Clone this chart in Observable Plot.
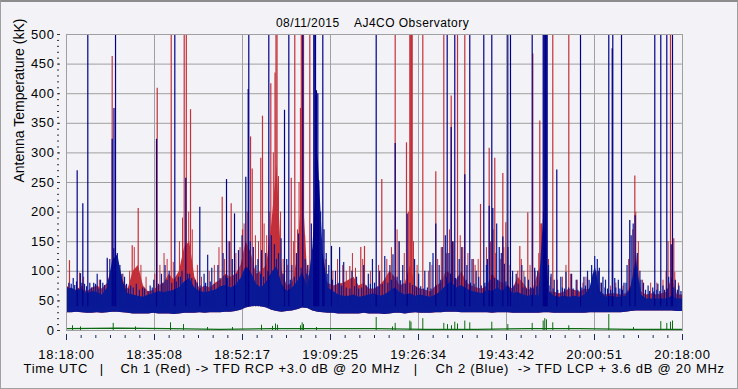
<!DOCTYPE html>
<html><head><meta charset="utf-8">
<script src="https://cdn.jsdelivr.net/npm/d3@7"></script>
<script src="https://cdn.jsdelivr.net/npm/@observablehq/plot@0.6"></script>
<style>
html,body{margin:0;padding:0;background:#f3f3f7;}
#wrap{position:relative;width:738px;height:389px;overflow:hidden;}
#wrap::after{content:"";position:absolute;left:0;top:0;right:0;bottom:0;border:1px solid #a0a0a0;border-top:2px solid #8c8c8c;pointer-events:none;}
svg text{white-space:pre;}
g[aria-label="x-axis tick label"] text{letter-spacing:0.75px;}
g[aria-label="y-axis tick label"] text{letter-spacing:0.6px;}
</style></head><body><div id="wrap"></div>
<script>
// ---- text ----
const titleText = "08/11/2015    AJ4CO Observatory";
const yLabelText = "Antenna Temperature (kK)";
const captionParts = ["Time UTC", "|", "Ch 1 (Red) -> TFD RCP +3.0 dB @ 20 MHz", "|", "Ch 2 (Blue)  -> TFD LCP + 3.6 dB @ 20 MHz"];
const tickLabels = ["18:18:00","18:35:08","18:52:17","19:09:25","19:26:34","19:43:42","20:00:51","20:18:00"];
const yTickValues = [0,50,100,150,200,250,300,350,400,450,500];

// ---- dense noise band, sampled each minute from 18:18 (0..120 min) ----
const bandFloor = [30,30,31,30,29, 29,30,29,30,31, 31,30,29,28,28, 28,28,29,28,28,
  28,27,28,29,29, 29,30,29,30,30, 30,31,31,32,34, 38,40,41,40,38, 34,32,31,32,33,
  35,38,37,33,31, 30,29,29,28,28, 28,28,28,29,28, 28,28,27,28,29, 29,28,29,30,29,
  29,29,30,30,31, 31,31,30,30,30, 30,30,30,29,30, 30,30,29,29,29, 29,29,29,30,30,
  29,29,29,29,29, 29,29,30,30,30, 30,30,30,30,31, 32,33,33,33,33, 33,33,33,33,32, 32];
const blueTop = [68,72,66,70,62, 66,64,60,72,118, 128,82,62,60,58, 56,60,62,66,64,
  66,68,72,82,88, 72,66,64,66,68, 74,76,72,76,88, 108,98,78,72,82, 98,108,78,66,72,
  82,98,72,140,300, 130,72,66,60,58, 58,60,56,58,60, 62,58,60,66,72, 64,60,62,58,60,
  58,56,60,66,76, 82,72,76,70,66, 64,62,68,66,72, 66,76,62,64,60, 58,60,58,200,66,
  58,56,58,56,58, 56,60,72,108,66, 56,58,56,56,58, 72,118,60,53,53, 53,53,53,58,53, 53];
const redTop = [75,70,68,75,65, 72,75,70,80,110, 120,85,70,100,110, 75,65,68,75,80,
  95,85,100,140,150, 90,70,75,72,80, 85,95,90,95,110, 150,130,95,100,110, 180,280,100,75,80,
  120,250,90,100,120, 90,80,75,78,80, 85,90,75,80,70, 70,75,85,100,90, 75,80,110,75,70,
  68,65,75,80,100, 95,85,100,80,75, 72,70,75,95,85, 80,75,70,90,80, 68,72,100,120,65,
  65,62,65,70,68, 65,70,68,70,65, 60,62,62,60,62, 75,130,65,60,62, 60,62,65,90,60, 60];

// ---- spikes [minutes after 18:18, kK] ----
const blueSpikes = [[2.08,270],[3.18,214],[4.15,500],[8.90,323],[9.25,375],[9.55,500],[17.53,323],
  [21.10,500],[23.24,257],[25.97,208],[31.17,255],[32.73,197],[34.93,259],[35.40,407],[35.51,500],
  [39.41,500],[42.47,372],[43.31,500],[46.03,500],[48.17,500],[48.37,500],[48.51,500],[48.70,405],
  [48.96,400],[49.15,253],[49.93,500],[50.16,170],[51.62,142],[60.33,500],[64.03,316],[66.36,197],
  [71.94,180],[74.16,500],[74.94,343],[75.64,500],[77.59,263],[78.56,500],[81.29,500],[82.34,210],
  [82.85,500],[83.05,206],[85.00,158],[85.97,500],[86.49,500],[90.72,500],[92.86,500],[93.02,500],
  [93.17,500],[93.31,500],[93.47,500],[93.64,500],[95.51,271],[100.13,500],[105.64,500],[106.31,476],
  [106.42,500],[108.12,500],[109.73,186],[110.77,194],[114.60,500],[115.77,500],[116.94,500],
  [117.80,145],[118.05,500]];
const blueSmall = [[0.45,80],[0.92,78],[1.31,88],[1.95,82],[2.73,96],[3.51,78],[4.54,80],[5.65,78],
  [5.98,95],[6.62,85],[7.07,80],[7.93,122],[8.44,120],[9.21,138],[9.9,130],[10.4,110],[11.3,90],
  [12.5,75],[13.6,78],[14.8,72],[16.3,75],[17.0,85],[18.5,95],[19.2,110],[20.0,100],[21.8,90],
  [22.5,100],[24.0,95],[25.1,85],[26.8,95],[27.5,127],[28.3,105],[29.5,110],[30.5,130],[31.8,150],
  [32.3,120],[33.5,135],[34.2,160],[35.8,150],[36.4,140],[37.3,120],[38.0,135],[38.8,130],[39.9,160],
  [40.5,145],[41.3,130],[41.8,155],[42.9,120],[43.9,110],[44.8,130],[45.2,163],[46.5,120],[47.0,110],
  [47.7,180],[49.5,200],[50.6,130],[51.1,110],[52.4,100],[53.2,140],[54.0,115],[55.6,100],[56.5,90],
  [57.9,110],[58.8,95],[59.6,120],[61.0,100],[62.0,125],[63.0,110],[63.6,128],[64.8,150],[65.5,110],
  [67.8,120],[68.6,95],[69.8,100],[70.8,115],[71.4,130],[72.6,110],[73.2,140],[73.8,160],[74.5,130],
  [75.2,150],[76.5,120],[77.0,140],[78.0,110],[79.0,120],[79.8,100],[80.3,90],[81.8,110],[82.0,120],
  [83.8,180],[84.3,140],[84.7,130],[85.3,112],[86.0,140],[86.9,100],[87.6,95],[88.7,110],[89.3,90],
  [90.0,85],[91.2,105],[91.8,100],[93.9,110],[94.4,95],[95.0,85],[96.3,90],[97.3,98],[98.4,95],
  [99.3,85],[100.8,90],[101.5,100],[102.3,110],[102.9,125],[103.4,120],[103.8,105],[104.5,90],
  [105.0,85],[106.8,88],[107.5,85],[108.6,80],[109.2,110],[110.0,160],[110.4,180],[111.2,130],
  [111.7,100],[112.4,80],[113.3,75],[114.2,72],[115.2,78],[116.2,75],[117.3,90],[118.6,85],[119.3,75]];
const blueGrass = [[0.2,72],[1.6,76],[2.4,70],[3.0,80],[3.9,74],[4.9,72],[5.3,80],[6.3,70],[7.4,76],
  [8.1,85],[10.8,95],[11.7,78],[12.1,70],[13.0,72],[14.2,68],[15.2,70],[15.9,66],[16.7,72],[17.9,78],
  [18.8,80],[19.6,85],[20.5,80],[21.4,82],[22.2,90],[23.6,95],[24.4,88],[25.5,80],[26.2,75],[27.1,80],
  [28.0,82],[28.8,78],[29.9,88],[30.9,92],[31.4,88],[33.1,95],[34.6,100],[36.9,110],[37.8,95],[38.4,90],
  [39.2,100],[40.9,120],[42.2,95],[43.6,85],[44.4,90],[45.7,105],[46.8,95],[47.4,90],[50.9,95],[51.8,85],
  [52.9,80],[53.6,75],[54.5,72],[55.2,70],[56.1,74],[56.9,70],[57.5,72],[58.4,75],[59.2,78],[60.0,80],
  [60.7,74],[61.5,78],[62.6,80],[63.3,85],[64.4,90],[65.1,84],[66.0,78],[66.9,80],[67.4,76],[68.2,72],
  [69.0,74],[69.5,70],[70.3,72],[71.0,70],[72.0,75],[72.9,85],[74.0,90],[74.8,95],[75.8,88],[76.2,90],
  [77.9,85],[78.7,80],[79.4,78],[80.8,75],[81.5,80],[82.5,85],[83.4,88],[84.0,85],[85.6,82],[86.5,90],
  [87.2,75],[88.0,78],[88.9,72],[89.6,70],[90.4,72],[91.0,70],[91.6,74],[92.3,80],[94.0,75],[94.8,70],
  [95.7,68],[96.6,72],[97.0,70],[97.8,72],[98.7,70],[99.6,68],[100.4,72],[101.1,75],[101.8,85],[102.6,95],
  [103.6,100],[104.2,80],[104.9,72],[105.4,70],[106.0,68],[107.0,72],[107.8,70],[108.3,68],[109.0,80],
  [111.9,85],[112.8,68],[113.6,66],[114.4,65],[115.0,68],[115.6,66],[116.5,68],[117.0,70],[118.3,72],
  [119.0,68],[119.7,66]];
const redSpikes = [[0.58,118],[8.90,463],[12.80,143],[13.97,206],[17.67,409],[20.40,500],[22.93,500],
  [23.34,500],[24.16,373],[30.33,225],[32.08,214],[34.29,170],[35.85,327],[36.18,273],[37.85,291],
  [38.18,362],[39.80,417],[40.62,435],[40.81,500],[41.01,500],[43.78,257],[44.47,500],[45.58,375],
  [45.74,500],[45.91,500],[46.17,500],[47.40,500],[49.62,140],[55.19,108],[57.33,140],[58.05,142],
  [61.42,255],[64.03,500],[66.23,317],[66.88,500],[67.05,500],[67.21,500],[67.34,500],[69.41,500],
  [71.94,268],[73.50,500],[74.94,396],[76.17,500],[77.59,500],[79.28,120],[80.65,213],[82.34,308],
  [83.43,291],[85.00,265],[85.58,182],[88.31,142],[89.86,199],[90.84,467],[92.20,354],[92.53,180],
  [94.73,500],[97.85,500],[110.71,261],[117.66,500],[118.30,155]];
const redSmall = [[2.55,97],[3.33,90],[6.4,85],[7.97,120],[10.2,100],[11.0,95],[12.3,100],[13.2,140],
  [14.5,110],[15.5,90],[17.2,95],[18.2,110],[19.0,130],[19.6,120],[20.8,115],[22.0,150],[22.6,190],
  [23.8,200],[24.5,170],[25.5,110],[26.3,90],[27.8,100],[28.8,110],[29.7,140],[30.8,120],[31.5,150],
  [33.0,130],[33.8,140],[34.6,180],[35.2,200],[36.8,160],[37.4,150],[38.5,180],[39.0,160],[39.6,200],
  [40.3,300],[41.3,260],[41.7,200],[42.2,120],[43.1,110],[44.2,150],[45.0,170],[45.3,250],[46.4,160],
  [47.0,110],[47.9,130],[48.5,150],[49.3,130],[50.5,120],[51.9,100],[52.8,120],[53.8,110],[54.5,100],
  [55.7,130],[56.3,105],[57.7,120],[59.2,100],[60.8,110],[62.4,120],[63.3,140],[64.4,170],[64.8,150],
  [65.8,130],[66.6,200],[67.6,150],[68.3,110],[70.5,100],[71.2,110],[72.3,120],[73.0,140],[74.0,130],
  [74.6,170],[75.4,150],[76.7,160],[77.2,140],[78.2,130],[79.6,110],[80.2,120],[81.8,140],[82.6,150],
  [83.1,170],[83.6,130],[84.5,120],[85.2,140],[86.4,110],[87.9,100],[88.6,120],[89.1,100],[90.3,110],
  [91.3,100],[92.0,130],[92.4,180],[92.9,200],[93.9,120],[94.3,90],[95.6,85],[96.6,90],[97.3,110],
  [98.2,95],[99.5,85],[100.6,80],[101.2,90],[102.6,85],[103.2,100],[104.1,80],[106.0,75],[107.0,80],
  [108.4,75],[109.5,120],[110.3,170],[110.9,200],[111.4,150],[112.2,85],[113.8,80],[115.0,80],
  [116.2,85],[116.8,100],[117.2,150],[118.5,98],[119.2,80]];

// ---- green channel ----
const greenBaseTimes = [0,10,20,30,40,50,60,70,80,90,100,110,120];
const greenBase = [3,4,3,2,3,3,3,2,2,3,3,2,2];
const greenSpikes = [[1.17,8],[2.73,6],[9.10,12],[13.44,6],[20.26,13],[22.79,10],[27.47,5],[32.34,5],
  [37.99,9],[40.13,7],[40.72,11],[41.11,9],[45.58,8],[45.91,13],[46.17,10],[48.70,5],[60.33,22],
  [63.51,6],[64.03,12],[66.88,16],[67.11,14],[69.41,20],[73.50,12],[74.22,10],[75.00,8],[75.64,14],
  [76.17,11],[77.59,16],[78.56,13],[82.85,14],[85.97,10],[90.72,12],[92.86,16],[93.17,20],[93.50,18],
  [94.73,13],[97.85,8],[105.64,27],[110.45,5],[115.77,15],[116.94,12],[117.66,14],[118.05,16]];

// ---- build ----
const band = d3.range(bandFloor.length).map(i => ({m: i, floor: bandFloor[i], blue: blueTop[i], red: redTop[i]}));
const greenLine = greenBaseTimes.map((t, i) => ({t, v: greenBase[i]}));
const xTicks = tickLabels.map((_, i) => i * 120 / (tickLabels.length - 1));
const xMinor = d3.range(0, 43).map(i => i * 120 / 42);
const yMinor = d3.range(0, 501, 10);
const gridC = "#a0a0a0";
const RED = "#c3303a", BLUE = "#0a1a96", BLUEL = "#000088", GREEN = "#0a6a10";
const cap = (i, x, anchor) => Plot.text([captionParts[i]], {text: d => d, frameAnchor: "bottom-left", textAnchor: anchor, dx: x - 66, dy: 42, fontSize: 13});

const chart = Plot.plot({
  width: 738, height: 389,
  marginLeft: 66, marginRight: 56, marginTop: 34, marginBottom: 59,
  style: {background: "#f3f3f7", fontFamily: "'Liberation Sans', Arial, sans-serif", fontSize: "13px", color: "#000", overflow: "visible"},
  x: {domain: [0, 120]},
  y: {domain: [0, 500]},
  marks: [
    Plot.gridY(yTickValues, {stroke: gridC, strokeOpacity: 1}),
    Plot.gridX(xTicks, {stroke: gridC, strokeOpacity: 1}),
    // red channel
    Plot.areaY(band, {x: "m", y1: "floor", y2: "red", fill: RED}),
    Plot.ruleX(redSmall, {x: d => d[0], y1: 40, y2: d => d[1], stroke: RED, strokeWidth: 1}),
    Plot.ruleX(redSpikes, {x: d => d[0], y1: 40, y2: d => d[1], stroke: RED, strokeWidth: 1.2}),
    // blue channel
    Plot.areaY(band, {x: "m", y1: "floor", y2: "blue", fill: BLUE}),
    Plot.ruleX(blueGrass, {x: d => d[0], y1: 40, y2: d => d[1], stroke: BLUE, strokeWidth: 1.2}),
    Plot.ruleX(blueSmall, {x: d => d[0], y1: 40, y2: d => d[1], stroke: BLUE, strokeWidth: 1.2}),
    Plot.ruleX(blueSpikes, {x: d => d[0], y1: 40, y2: d => d[1], stroke: BLUEL, strokeWidth: 1.2}),
    // green channel
    Plot.ruleX(greenSpikes, {x: d => d[0], y1: 0, y2: d => d[1], stroke: GREEN, strokeWidth: 1}),
    Plot.lineY(greenLine, {x: "t", y: "v", stroke: GREEN, strokeWidth: 1.2}),
    Plot.frame({stroke: gridC}),
    // axes
    Plot.axisX({ticks: xMinor, tickSize: 3, fill: "none", stroke: "#1a2a6a", dy: 5, label: null}),
    Plot.axisX({ticks: xTicks, tickSize: 6, fill: "none", stroke: "#1a2a6a", dy: 4, label: null}),
    Plot.axisX({ticks: xTicks, tickSize: 0, tickPadding: 19, tickFormat: d => tickLabels[Math.round(d * 7 / 120)], label: null, fontSize: 13}),
    Plot.axisY({ticks: yMinor, tickSize: 2, fill: "none", stroke: "#333", dx: -7, label: null}),
    Plot.axisY({ticks: yTickValues, tickSize: 2, tickPadding: 4, dx: -6, stroke: "#333", label: null, fontSize: 13}),
    // texts
    Plot.text([titleText], {text: d => d, frameAnchor: "top", dx: -2, dy: -16, fontSize: 12}),
    Plot.text([yLabelText], {text: d => d, frameAnchor: "left", rotate: -90, dx: -47, fontSize: 14}),
    cap(0, 23, "start"), cap(1, 101, "middle"), cap(2, 120, "start"), cap(3, 415, "middle"), cap(4, 435, "start")
  ]
});
// letter spacing to match the reference's wider bitmap font
d3.select(chart).selectAll("text").each(function () {
  const t = this.textContent;
  if (captionParts.includes(t) && t !== "|") this.style.letterSpacing = "0.72px";
  if (t === titleText) this.style.letterSpacing = "0.45px";
});
document.getElementById("wrap").appendChild(chart);
</script>
</body></html>
